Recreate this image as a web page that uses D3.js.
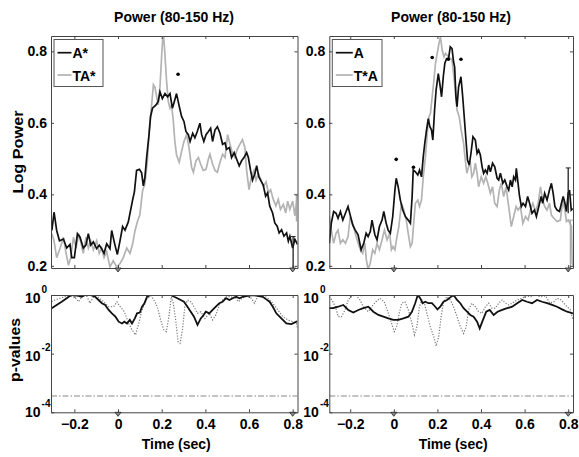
<!DOCTYPE html>
<html>
<head>
<meta charset="utf-8">
<script src="https://cdn.jsdelivr.net/npm/d3@7"></script>
<style>
    body { margin: 0; background: white; }
    svg { display: block; font-family: "Liberation Sans", Arial, sans-serif; }
    .tick text { font-weight: bold; font-size: 14px; fill: #000; }
</style>
</head>
<body>
<div id="chart"></div>
<script>
// ---- data (time in s, log power) ----
const xTicks = [-0.2, 0, 0.2, 0.4, 0.6, 0.8];
const powerTicks = [0.2, 0.4, 0.6, 0.8];
const pTicks = [1e-4, 1e-2, 1];
const pTickExp = ["-4", "-2", "0"];
const titleText = "Power (80-150 Hz)";
const legendLeft = ["A*", "TA*"];
const legendRight = ["A", "T*A"];
const alphaLevel = 3.6e-4;
const eventTimes = [0, 0.8];

const leftBlack = [[-0.303,0.299],[-0.293,0.35],[-0.281,0.299],[-0.268,0.27],[-0.25,0.275],[-0.235,0.25],[-0.22,0.26],[-0.212,0.223],[-0.2,0.223],[-0.186,0.29],[-0.174,0.28],[-0.159,0.25],[-0.147,0.258],[-0.136,0.29],[-0.125,0.258],[-0.113,0.267],[-0.098,0.248],[-0.086,0.258],[-0.075,0.248],[-0.064,0.235],[-0.052,0.262],[-0.037,0.248],[-0.029,0.299],[-0.014,0.258],[-0.003,0.232],[0.009,0.27],[0.021,0.31],[0.032,0.3],[0.047,0.323],[0.058,0.357],[0.067,0.385],[0.075,0.407],[0.085,0.467],[0.098,0.47],[0.108,0.46],[0.116,0.424],[0.123,0.447],[0.131,0.503],[0.142,0.567],[0.149,0.618],[0.158,0.641],[0.174,0.65],[0.184,0.66],[0.192,0.687],[0.203,0.668],[0.215,0.682],[0.227,0.673],[0.238,0.682],[0.249,0.641],[0.258,0.66],[0.268,0.682],[0.279,0.65],[0.291,0.618],[0.302,0.604],[0.311,0.576],[0.322,0.567],[0.33,0.548],[0.342,0.571],[0.352,0.558],[0.363,0.576],[0.375,0.599],[0.383,0.567],[0.393,0.548],[0.403,0.567],[0.414,0.576],[0.424,0.585],[0.433,0.548],[0.444,0.58],[0.455,0.589],[0.467,0.571],[0.479,0.54],[0.49,0.544],[0.497,0.526],[0.51,0.531],[0.52,0.503],[0.532,0.517],[0.543,0.499],[0.555,0.48],[0.566,0.494],[0.577,0.503],[0.589,0.517],[0.597,0.503],[0.607,0.467],[0.616,0.44],[0.627,0.458],[0.635,0.48],[0.645,0.449],[0.657,0.435],[0.665,0.426],[0.676,0.395],[0.685,0.404],[0.695,0.367],[0.708,0.348],[0.718,0.32],[0.729,0.311],[0.738,0.292],[0.749,0.301],[0.76,0.283],[0.772,0.292],[0.78,0.269],[0.787,0.283],[0.8,0.25],[0.81,0.274],[0.822,0.26]];

const leftGray = [[-0.303,0.29],[-0.293,0.27],[-0.281,0.223],[-0.265,0.25],[-0.25,0.28],[-0.238,0.235],[-0.227,0.202],[-0.217,0.223],[-0.204,0.28],[-0.192,0.25],[-0.18,0.29],[-0.169,0.262],[-0.159,0.235],[-0.147,0.28],[-0.136,0.25],[-0.125,0.27],[-0.113,0.245],[-0.098,0.27],[-0.086,0.235],[-0.075,0.25],[-0.064,0.223],[-0.052,0.24],[-0.037,0.197],[-0.022,0.214],[-0.006,0.197],[0.009,0.206],[0.024,0.223],[0.04,0.25],[0.055,0.235],[0.067,0.262],[0.078,0.299],[0.09,0.326],[0.1,0.343],[0.112,0.409],[0.123,0.43],[0.134,0.49],[0.143,0.58],[0.154,0.65],[0.162,0.707],[0.169,0.7],[0.177,0.673],[0.184,0.65],[0.192,0.7],[0.2,0.79],[0.207,0.86],[0.215,0.79],[0.222,0.72],[0.23,0.66],[0.238,0.641],[0.245,0.65],[0.253,0.607],[0.26,0.55],[0.268,0.51],[0.28,0.49],[0.291,0.52],[0.302,0.548],[0.314,0.567],[0.325,0.531],[0.337,0.476],[0.345,0.462],[0.357,0.494],[0.368,0.503],[0.378,0.485],[0.39,0.467],[0.403,0.47],[0.414,0.499],[0.421,0.512],[0.433,0.485],[0.444,0.467],[0.455,0.462],[0.467,0.49],[0.479,0.512],[0.49,0.503],[0.502,0.567],[0.513,0.54],[0.523,0.517],[0.535,0.503],[0.546,0.526],[0.558,0.54],[0.57,0.553],[0.581,0.531],[0.589,0.467],[0.6,0.413],[0.611,0.449],[0.623,0.467],[0.632,0.44],[0.643,0.458],[0.655,0.44],[0.666,0.422],[0.678,0.435],[0.689,0.404],[0.699,0.413],[0.711,0.386],[0.723,0.368],[0.734,0.386],[0.744,0.358],[0.757,0.372],[0.768,0.348],[0.777,0.381],[0.787,0.358],[0.8,0.381],[0.81,0.34],[0.822,0.4]];

const rightBlack = [[-0.296,0.263],[-0.287,0.319],[-0.276,0.352],[-0.265,0.347],[-0.256,0.333],[-0.245,0.352],[-0.234,0.328],[-0.222,0.347],[-0.21,0.366],[-0.2,0.342],[-0.189,0.315],[-0.177,0.3],[-0.164,0.287],[-0.15,0.245],[-0.138,0.263],[-0.127,0.291],[-0.118,0.282],[-0.108,0.296],[-0.1,0.328],[-0.087,0.287],[-0.077,0.273],[-0.066,0.31],[-0.054,0.328],[-0.046,0.352],[-0.035,0.319],[-0.026,0.3],[-0.016,0.291],[-0.005,0.338],[0.005,0.412],[0.011,0.445],[0.02,0.421],[0.03,0.384],[0.041,0.356],[0.053,0.338],[0.066,0.328],[0.076,0.319],[0.084,0.394],[0.089,0.468],[0.099,0.463],[0.11,0.454],[0.118,0.468],[0.127,0.449],[0.135,0.505],[0.142,0.543],[0.15,0.58],[0.158,0.612],[0.165,0.59],[0.173,0.58],[0.179,0.552],[0.187,0.636],[0.194,0.692],[0.204,0.738],[0.211,0.71],[0.219,0.673],[0.227,0.729],[0.234,0.766],[0.242,0.78],[0.251,0.78],[0.259,0.813],[0.267,0.808],[0.274,0.771],[0.279,0.757],[0.285,0.673],[0.29,0.645],[0.297,0.7],[0.308,0.729],[0.316,0.673],[0.323,0.617],[0.331,0.552],[0.338,0.496],[0.346,0.482],[0.354,0.515],[0.363,0.561],[0.374,0.552],[0.382,0.515],[0.389,0.524],[0.397,0.51],[0.405,0.477],[0.412,0.459],[0.42,0.468],[0.428,0.459],[0.435,0.482],[0.443,0.463],[0.453,0.487],[0.463,0.477],[0.474,0.445],[0.481,0.44],[0.489,0.459],[0.5,0.431],[0.509,0.44],[0.52,0.421],[0.527,0.412],[0.535,0.44],[0.543,0.421],[0.55,0.449],[0.558,0.44],[0.562,0.473],[0.57,0.431],[0.576,0.398],[0.585,0.366],[0.593,0.375],[0.604,0.366],[0.614,0.394],[0.623,0.375],[0.634,0.347],[0.645,0.356],[0.654,0.338],[0.665,0.366],[0.676,0.394],[0.683,0.375],[0.692,0.403],[0.703,0.384],[0.714,0.412],[0.723,0.431],[0.731,0.403],[0.739,0.366],[0.749,0.356],[0.76,0.352],[0.769,0.375],[0.777,0.394],[0.785,0.375],[0.792,0.352],[0.8,0.403],[0.806,0.412],[0.814,0.356],[0.821,0.36]];

const rightGray = [[-0.296,0.338],[-0.287,0.3],[-0.276,0.263],[-0.265,0.291],[-0.256,0.3],[-0.245,0.263],[-0.234,0.273],[-0.222,0.263],[-0.21,0.282],[-0.2,0.338],[-0.189,0.319],[-0.177,0.291],[-0.164,0.263],[-0.153,0.245],[-0.143,0.235],[-0.133,0.263],[-0.126,0.217],[-0.118,0.19],[-0.108,0.208],[-0.097,0.245],[-0.087,0.235],[-0.077,0.263],[-0.066,0.245],[-0.054,0.273],[-0.043,0.3],[-0.031,0.273],[-0.019,0.291],[-0.011,0.245],[-0.004,0.254],[0.005,0.245],[0.012,0.273],[0.023,0.31],[0.035,0.375],[0.046,0.356],[0.057,0.328],[0.066,0.291],[0.076,0.254],[0.084,0.263],[0.091,0.319],[0.099,0.375],[0.11,0.384],[0.118,0.366],[0.127,0.384],[0.135,0.449],[0.145,0.505],[0.153,0.57],[0.161,0.617],[0.168,0.627],[0.176,0.673],[0.184,0.72],[0.191,0.766],[0.199,0.794],[0.207,0.822],[0.214,0.84],[0.222,0.803],[0.23,0.785],[0.237,0.794],[0.251,0.785],[0.267,0.776],[0.279,0.71],[0.29,0.636],[0.3,0.617],[0.309,0.58],[0.32,0.543],[0.328,0.496],[0.335,0.459],[0.343,0.477],[0.351,0.487],[0.358,0.449],[0.366,0.459],[0.374,0.487],[0.382,0.459],[0.389,0.421],[0.401,0.449],[0.412,0.431],[0.422,0.449],[0.431,0.431],[0.443,0.403],[0.453,0.421],[0.463,0.375],[0.474,0.366],[0.484,0.412],[0.493,0.431],[0.504,0.394],[0.515,0.421],[0.527,0.366],[0.539,0.31],[0.55,0.338],[0.561,0.366],[0.57,0.356],[0.581,0.366],[0.592,0.319],[0.604,0.338],[0.616,0.328],[0.627,0.356],[0.638,0.375],[0.65,0.352],[0.662,0.375],[0.673,0.421],[0.683,0.384],[0.692,0.366],[0.703,0.356],[0.714,0.375],[0.723,0.342],[0.734,0.333],[0.749,0.324],[0.764,0.328],[0.775,0.384],[0.785,0.356],[0.792,0.324],[0.8,0.328],[0.808,0.319],[0.815,0.31],[0.818,0.208],[0.821,0.2]];

// significance dots [t, value]
const leftDots = [[0.275, 0.736]];
const rightDots = [[0.011, 0.498], [0.09, 0.476], [0.176, 0.783], [0.25, 0.778], [0.308, 0.778]];

// error bars at the end [t, low, high]
const leftErrBlack = [0.802, 0.15, 0.282];
const leftErrGray = [0.817, 0.324, 0.4];
const rightErrBlack = [0.8, 0.347, 0.474];
const rightErrGray = [0.81, 0.19, 0.328];

// ---- p-values (time, log10 p) ----
const leftPSolid = [[-0.304,-0.45],[-0.281,-0.34],[-0.258,-0.23],[-0.235,-0.11],[-0.22,-0.03],[-0.204,0],[-0.181,-0.03],[-0.166,-0.06],[-0.151,0],[-0.128,0],[-0.105,-0.06],[-0.089,-0.17],[-0.074,-0.28],[-0.059,-0.34],[-0.043,-0.51],[-0.028,-0.625],[-0.012,-0.74],[0.003,-0.91],[0.018,-0.97],[0.029,-0.91],[0.041,-0.97],[0.054,-0.85],[0.064,-0.97],[0.077,-0.8],[0.087,-0.625],[0.1,-0.6],[0.11,-0.4],[0.121,-0.28],[0.133,-0.06],[0.149,0],[0.172,0],[0.195,0],[0.218,0],[0.241,0],[0.257,-0.06],[0.272,-0.11],[0.287,-0.17],[0.302,-0.23],[0.318,-0.4],[0.333,-0.57],[0.348,-0.74],[0.364,-1.02],[0.379,-0.8],[0.392,-0.68],[0.402,-0.57],[0.418,-0.625],[0.433,-0.51],[0.448,-0.4],[0.464,-0.28],[0.479,-0.23],[0.495,-0.11],[0.51,-0.17],[0.525,-0.11],[0.541,-0.06],[0.556,-0.11],[0.571,-0.06],[0.594,-0.03],[0.617,0],[0.64,-0.03],[0.663,-0.06],[0.679,-0.15],[0.694,-0.23],[0.709,-0.4],[0.725,-0.625],[0.748,-0.8],[0.771,-0.97],[0.794,-0.99],[0.817,-0.91],[0.822,-0.9]];

const leftPDotted = [[-0.304,-0.23],[-0.289,-0.17],[-0.266,-0.11],[-0.243,-0.06],[-0.22,-0.03],[-0.197,-0.08],[-0.181,-0.23],[-0.166,-0.06],[-0.146,0],[-0.128,-0.28],[-0.112,-0.06],[-0.089,-0.08],[-0.066,-0.23],[-0.043,-0.4],[-0.02,-0.4],[-0.005,-0.23],[0.01,-0.4],[0.029,-0.57],[0.049,-0.97],[0.064,-1.19],[0.08,-1.36],[0.095,-0.97],[0.11,-0.51],[0.133,-0.11],[0.152,-0.03],[0.164,-0.17],[0.18,-0.4],[0.195,-0.85],[0.21,-1.19],[0.221,-1.25],[0.233,-0.74],[0.244,-0.06],[0.253,-0.28],[0.264,-0.85],[0.275,-1.59],[0.284,-1.65],[0.295,-1.19],[0.306,-0.4],[0.318,-0.17],[0.333,-0.23],[0.348,-0.4],[0.364,-0.625],[0.379,-0.57],[0.398,-0.8],[0.418,-0.625],[0.433,-0.85],[0.448,-0.68],[0.464,-0.34],[0.479,-0.17],[0.499,-0.03],[0.518,-0.08],[0.533,-0.03],[0.552,-0.23],[0.567,-0.11],[0.587,-0.03],[0.61,-0.11],[0.625,-0.28],[0.64,-0.06],[0.663,0],[0.686,-0.11],[0.709,-0.28],[0.732,-0.51],[0.755,-0.74],[0.778,-0.85],[0.801,-0.91],[0.817,-0.97],[0.822,-1.14]];

const rightPSolid = [[-0.297,-0.45],[-0.278,-0.45],[-0.255,-0.4],[-0.232,-0.34],[-0.209,-0.51],[-0.186,-0.6],[-0.163,-0.51],[-0.14,-0.45],[-0.117,-0.4],[-0.094,-0.57],[-0.071,-0.68],[-0.048,-0.74],[-0.025,-0.8],[-0.002,-0.85],[0.021,-0.85],[0.044,-0.8],[0.067,-0.74],[0.083,-0.57],[0.098,-0.28],[0.11,0],[0.121,-0.11],[0.132,-0.28],[0.144,-0.23],[0.159,-0.28],[0.175,-0.28],[0.19,-0.4],[0.2,-0.49],[0.213,-0.4],[0.228,-0.23],[0.244,-0.17],[0.259,-0.08],[0.274,0],[0.29,-0.17],[0.305,-0.28],[0.32,-0.45],[0.336,-0.57],[0.351,-0.68],[0.366,-0.74],[0.382,-0.91],[0.394,-1.14],[0.409,-0.85],[0.424,-0.57],[0.44,-0.51],[0.458,-0.68],[0.476,-0.57],[0.497,-0.51],[0.52,-0.45],[0.543,-0.4],[0.566,-0.28],[0.589,-0.17],[0.611,-0.23],[0.634,-0.28],[0.657,-0.17],[0.68,-0.23],[0.703,-0.28],[0.726,-0.34],[0.749,-0.4],[0.772,-0.49],[0.795,-0.57],[0.822,-0.625]];

const rightPDotted = [[-0.297,-0.06],[-0.284,-0.17],[-0.268,-0.4],[-0.255,-0.74],[-0.24,-0.74],[-0.224,-0.51],[-0.209,-0.17],[-0.194,-0.03],[-0.174,0],[-0.155,-0.17],[-0.14,-0.4],[-0.117,-0.57],[-0.102,-0.4],[-0.082,-0.23],[-0.064,-0.11],[-0.044,-0.23],[-0.025,-0.625],[-0.01,-0.97],[0.002,-1.25],[0.013,-1.08],[0.025,-0.625],[0.036,-0.28],[0.051,-0.23],[0.067,-0.51],[0.083,-0.97],[0.095,-1.36],[0.106,-1.08],[0.117,-0.4],[0.129,-0.17],[0.14,-0.28],[0.152,-0.625],[0.167,-1.08],[0.183,-1.42],[0.194,-1.74],[0.206,-1.42],[0.217,-0.74],[0.228,-0.23],[0.244,-0.06],[0.259,-0.17],[0.274,-0.4],[0.29,-0.74],[0.305,-1.08],[0.32,-1.31],[0.332,-1.08],[0.343,-0.51],[0.358,-0.28],[0.374,-0.4],[0.389,-0.57],[0.404,-0.625],[0.42,-0.4],[0.435,-0.28],[0.45,-0.45],[0.466,-0.45],[0.481,-0.28],[0.497,-0.17],[0.512,-0.28],[0.527,-0.34],[0.543,-0.28],[0.566,-0.17],[0.589,-0.11],[0.604,-0.03],[0.627,-0.06],[0.65,0],[0.673,-0.06],[0.696,-0.03],[0.716,-0.28],[0.734,-0.23],[0.749,-0.11],[0.768,-0.17],[0.787,-0.34],[0.81,-0.51],[0.822,-0.85]];

// ---- layout ----
const width = 579, height = 457;
const panels = {
    left:  { x0: 51,    x1: 297.5, tMin: -0.307, tMax: 0.822 },
    right: { x0: 329.3, x1: 573,   tMin: -0.296, tMax: 0.822 }
};
const topY = [268, 36];
const botY = [412.3, 295];
// vertical nudge of the 10^n labels (matlab shifts the outer ones inward)
const pLabelShift = [4.5, 7.5, 8];

const svg = d3.select("#chart").append("svg")
    .attr("width", width)
    .attr("height", height);

function frameAxes(g, x, y, yTop, yBot, xTickVals, yTickVals, yFormat, showXLabels) {
    // bottom
    g.append("g")
        .attr("transform", `translate(0,${yBot})`)
        .call(d3.axisBottom(x).tickValues(xTickVals).tickSizeInner(-3).tickSizeOuter(0)
            .tickPadding(7).tickFormat(showXLabels ? d3.format("") : ""));
    // top
    g.append("g")
        .attr("transform", `translate(0,${yTop})`)
        .call(d3.axisTop(x).tickValues(xTickVals).tickSizeInner(-3).tickSizeOuter(0).tickFormat(""));
    // left
    g.append("g")
        .attr("transform", `translate(${x.range()[0]},0)`)
        .call(d3.axisLeft(y).tickValues(yTickVals).tickSizeInner(-3).tickSizeOuter(0)
            .tickPadding(4).tickFormat(yFormat));
    // right
    g.append("g")
        .attr("transform", `translate(${x.range()[1]},0)`)
        .call(d3.axisRight(y).tickValues(yTickVals).tickSizeInner(-3).tickSizeOuter(0).tickFormat(""));
    g.selectAll(".domain").attr("stroke", "#444");
    g.selectAll(".tick line").attr("stroke", "#444");
}

function eventMarkers(g, x, yBot) {
    g.selectAll(null)
        .data(eventTimes)
        .enter().append("path")
        .attr("d", d => {
            const cx = x(d);
            return `M${cx - 3},${yBot} L${cx + 3},${yBot} L${cx},${yBot + 4} Z`;
        })
        .attr("fill", "#888")
        .attr("stroke", "#222")
        .attr("stroke-width", 0.8);
}

function clip(id, x, yTop, yBot) {
    svg.append("clipPath").attr("id", id)
        .append("rect")
        .attr("x", x.range()[0]).attr("y", yTop)
        .attr("width", x.range()[1] - x.range()[0]).attr("height", yBot - yTop);
}

function drawPowerPanel(key, black, gray, dots, errBlack, errGray, legendNames, titleX, legendLine) {
    const p = panels[key];
    const x = d3.scaleLinear().domain([p.tMin, p.tMax]).range([p.x0, p.x1]);
    const y = d3.scaleLinear().domain([0.194, 0.843]).range(topY);
    const g = svg.append("g");
    clip("clip-top-" + key, x, topY[1], topY[0]);

    const line = d3.line().x(d => x(d[0])).y(d => y(d[1]));
    const plot = g.append("g").attr("clip-path", `url(#clip-top-${key})`);

    plot.append("path").datum(gray)
        .attr("d", line).attr("fill", "none")
        .attr("stroke", "#b3b3b3").attr("stroke-width", 1.7);
    plot.append("path").datum(black)
        .attr("d", line).attr("fill", "none")
        .attr("stroke", "#111").attr("stroke-width", 1.7);

    // error bars
    [[errGray, "#aaa"], [errBlack, "#222"]].forEach(([e, c]) => {
        plot.append("line")
            .attr("x1", x(e[0])).attr("x2", x(e[0]))
            .attr("y1", y(e[1])).attr("y2", y(e[2]))
            .attr("stroke", c).attr("stroke-width", 1.3);
        plot.append("line")
            .attr("x1", x(e[0]) - 2.5).attr("x2", x(e[0]) + 2.5)
            .attr("y1", y(e[2])).attr("y2", y(e[2]))
            .attr("stroke", c).attr("stroke-width", 1);
    });

    plot.selectAll(null).data(dots).enter().append("circle")
        .attr("cx", d => x(d[0])).attr("cy", d => y(d[1]))
        .attr("r", 1.8).attr("fill", "#000");

    frameAxes(g, x, y, topY[1], topY[0], xTicks, powerTicks, d3.format(".1f"), false);
    eventMarkers(g, x, topY[0]);

    // title
    svg.append("text")
        .attr("x", titleX).attr("y", 22)
        .attr("text-anchor", "middle")
        .attr("font-size", 14).attr("font-weight", "bold")
        .text(titleText);

    // legend
    const lg = svg.append("g");
    lg.append("rect")
        .attr("x", x.range()[0] + 3).attr("y", 39.5)
        .attr("width", legendLine.boxW).attr("height", 47)
        .attr("fill", "white").attr("stroke", "#555").attr("stroke-width", 1);
    const rows = [[legendNames[0], "#111", 52.7], [legendNames[1], "#b3b3b3", 75]];
    rows.forEach(([name, col, ly]) => {
        lg.append("line")
            .attr("x1", x.range()[0] + 6.5).attr("x2", x.range()[0] + 6.5 + legendLine.len)
            .attr("y1", ly).attr("y2", ly)
            .attr("stroke", col).attr("stroke-width", 1.7);
        lg.append("text")
            .attr("x", x.range()[0] + 7.5 + legendLine.len).attr("y", ly + 5.5)
            .attr("font-size", 14).attr("font-weight", "bold")
            .text(name);
    });
}

function drawPvalPanel(key, solid, dotted) {
    const p = panels[key];
    const x = d3.scaleLinear().domain([p.tMin, p.tMax]).range([p.x0, p.x1]);
    const y = d3.scaleLog().domain([1e-4, 1]).range(botY);
    const g = svg.append("g");
    clip("clip-bot-" + key, x, botY[1], botY[0]);

    const line = d3.line().x(d => x(d[0])).y(d => y(Math.pow(10, d[1])));
    const plot = g.append("g").attr("clip-path", `url(#clip-bot-${key})`);

    plot.append("line")
        .attr("x1", x.range()[0]).attr("x2", x.range()[1])
        .attr("y1", y(alphaLevel)).attr("y2", y(alphaLevel))
        .attr("stroke", "#888").attr("stroke-width", 1)
        .attr("stroke-dasharray", "6,2,1.5,2");
    plot.append("path").datum(dotted)
        .attr("d", line).attr("fill", "none")
        .attr("stroke", "#777").attr("stroke-width", 1.2)
        .attr("stroke-dasharray", "1.2,1.6");
    plot.append("path").datum(solid)
        .attr("d", line).attr("fill", "none")
        .attr("stroke", "#111").attr("stroke-width", 1.8);

    frameAxes(g, x, y, botY[1], botY[0], xTicks, pTicks, () => "", true);
    eventMarkers(g, x, botY[0]);

    // 10^n labels
    pTicks.forEach((v, i) => {
        const t = g.append("text")
            .attr("x", x.range()[0] - 26).attr("y", y(v) + pLabelShift[i])
            .attr("font-size", 14).attr("font-weight", "bold");
        t.append("tspan").text("10");
        t.append("tspan").attr("dx", 1).attr("dy", -10).attr("font-size", 10).text(pTickExp[i]);
    });

    // x axis title
    svg.append("text")
        .attr("x", (x.range()[0] + x.range()[1]) / 2 + 2).attr("y", 449)
        .attr("text-anchor", "middle")
        .attr("font-size", 14).attr("font-weight", "bold")
        .text("Time (sec)");
}

drawPowerPanel("left", leftBlack, leftGray, leftDots, leftErrBlack, leftErrGray,
    legendLeft, 174, { len: 14, boxW: 49 });
drawPowerPanel("right", rightBlack, rightGray, rightDots, rightErrBlack, rightErrGray,
    legendRight, 451, { len: 17, boxW: 49.7 });
drawPvalPanel("left", leftPSolid, leftPDotted);
drawPvalPanel("right", rightPSolid, rightPDotted);

// y axis titles
svg.append("text")
    .attr("transform", `translate(23,152) rotate(-90)`)
    .attr("text-anchor", "middle")
    .attr("font-size", 15).attr("font-weight", "bold")
    .attr("textLength", 83).attr("lengthAdjust", "spacingAndGlyphs")
    .text("Log Power");
svg.append("text")
    .attr("transform", `translate(19.5,350) rotate(-90)`)
    .attr("text-anchor", "middle")
    .attr("font-size", 15).attr("font-weight", "bold")
    .attr("textLength", 64).attr("lengthAdjust", "spacingAndGlyphs")
    .text("p-values");
</script>
</body>
</html>
